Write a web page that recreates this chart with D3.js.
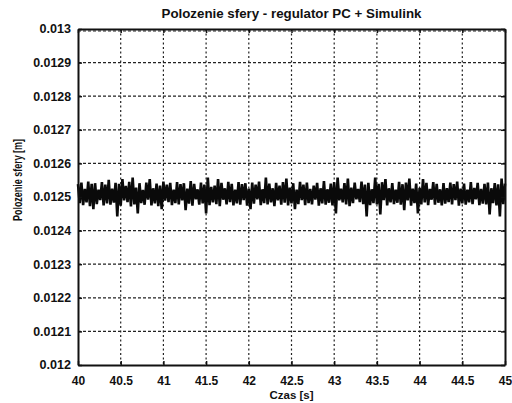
<!DOCTYPE html>
<html>
<head>
<meta charset="utf-8">
<script src="https://cdn.jsdelivr.net/npm/d3@7"></script>
<style>
  body { margin: 0; background: #fff; }
  svg text { font-family: "Liberation Sans", Arial, sans-serif; font-weight: bold; fill: #111; }
</style>
</head>
<body>
<svg id="chart" width="512" height="403"></svg>
<script>
// data
var t0 = 40, krok = 0.02   // sample time [s]
var polozenie = [
  0.012538, 0.012482, 0.012543, 0.012476, 0.012524, 0.012484, 0.012546, 0.012473, 0.012539, 0.012464,
  0.012541, 0.012479, 0.012522, 0.012491, 0.012544, 0.012475, 0.012537, 0.012481, 0.012551, 0.012477,
  0.012525, 0.012483, 0.012542, 0.012442, 0.012539, 0.012474, 0.012553, 0.012490, 0.012533, 0.012485,
  0.012545, 0.012472, 0.012558, 0.012478, 0.012528, 0.012451, 0.012541, 0.012482, 0.012521, 0.012477,
  0.012543, 0.012492, 0.012553, 0.012475, 0.012526, 0.012481, 0.012540, 0.012473, 0.012534, 0.012464,
  0.012546, 0.012489, 0.012537, 0.012485, 0.012542, 0.012476, 0.012522, 0.012482, 0.012544, 0.012478,
  0.012538, 0.012490, 0.012541, 0.012461, 0.012525, 0.012480, 0.012547, 0.012474, 0.012539, 0.012493,
  0.012523, 0.012477, 0.012543, 0.012481, 0.012537, 0.012451, 0.012558, 0.012476, 0.012530, 0.012484,
  0.012534, 0.012479, 0.012553, 0.012473, 0.012542, 0.012492, 0.012526, 0.012478, 0.012545, 0.012485,
  0.012539, 0.012475, 0.012522, 0.012481, 0.012544, 0.012477, 0.012538, 0.012491, 0.012541, 0.012474,
  0.012525, 0.012464, 0.012543, 0.012480, 0.012537, 0.012493, 0.012546, 0.012476, 0.012523, 0.012482,
  0.012558, 0.012478, 0.012540, 0.012484, 0.012526, 0.012473, 0.012542, 0.012490, 0.012534, 0.012477,
  0.012544, 0.012483, 0.012555, 0.012475, 0.012528, 0.012481, 0.012541, 0.012464, 0.012522, 0.012479,
  0.012545, 0.012491, 0.012537, 0.012476, 0.012543, 0.012482, 0.012524, 0.012478, 0.012534, 0.012492,
  0.012542, 0.012474, 0.012526, 0.012481, 0.012547, 0.012477, 0.012523, 0.012483, 0.012540, 0.012475,
  0.012544, 0.012451, 0.012558, 0.012490, 0.012525, 0.012484, 0.012541, 0.012478, 0.012555, 0.012473,
  0.012528, 0.012482, 0.012543, 0.012493, 0.012524, 0.012485, 0.012546, 0.012479, 0.012537, 0.012442,
  0.012542, 0.012476, 0.012523, 0.012482, 0.012558, 0.012478, 0.012539, 0.012448, 0.012544, 0.012491,
  0.012553, 0.012475, 0.012526, 0.012484, 0.012541, 0.012479, 0.012522, 0.012483, 0.012545, 0.012477,
  0.012538, 0.012461, 0.012543, 0.012490, 0.012555, 0.012474, 0.012525, 0.012482, 0.012540, 0.012451,
  0.012527, 0.012478, 0.012553, 0.012484, 0.012542, 0.012476, 0.012524, 0.012492, 0.012544, 0.012477,
  0.012539, 0.012483, 0.012523, 0.012475, 0.012541, 0.012480, 0.012526, 0.012485, 0.012543, 0.012478,
  0.012538, 0.012491, 0.012546, 0.012474, 0.012525, 0.012481, 0.012540, 0.012477, 0.012522, 0.012484,
  0.012544, 0.012479, 0.012527, 0.012493, 0.012542, 0.012476, 0.012524, 0.012480, 0.012539, 0.012478,
  0.012543, 0.012448, 0.012526, 0.012482, 0.012541, 0.012475, 0.012538, 0.012442, 0.012555, 0.012479,
  0.012540
]
var xTicks = [40, 40.5, 41, 41.5, 42, 42.5, 43, 43.5, 44, 44.5, 45]
var yTicks = [0.012, 0.0121, 0.0122, 0.0123, 0.0124, 0.0125, 0.0126, 0.0127, 0.0128, 0.0129, 0.013]
var tytul = "Polozenie sfery - regulator PC + Simulink"
var xOpis = "Czas [s]"
var yOpis = "Polozenie sfery [m]"

var pLeft = 78, pRight = 505, pTop = 29, pBottom = 365
var svg = d3.select("#chart")

var x = d3.scaleLinear().domain([40, 45]).range([pLeft, pRight])
var y = d3.scaleLinear().domain([0.012, 0.013]).range([pBottom, pTop])

// grid
var grid = svg.append("g").attr("class", "grid")
grid.selectAll("line.gx").data(xTicks.slice(1, -1)).enter().append("line")
    .attr("x1", d => x(d)).attr("x2", d => x(d))
    .attr("y1", pTop).attr("y2", pBottom)
    .style("stroke", "#222").style("stroke-width", "1.2px").style("stroke-dasharray", "2,2.5")
grid.selectAll("line.gy").data(yTicks.slice(1, -1)).enter().append("line")
    .attr("x1", pLeft).attr("x2", pRight)
    .attr("y1", d => y(d)).attr("y2", d => y(d))
    .style("stroke", "#222").style("stroke-width", "1.2px").style("stroke-dasharray", "3,2")
// dotted line just under the top frame
grid.append("line").attr("x1", pLeft).attr("x2", pRight).attr("y1", pTop + 2).attr("y2", pTop + 2)
    .style("stroke", "#222").style("stroke-width", "1px").style("stroke-dasharray", "3,2")

// signal
var line = d3.line().x((d, i) => x(t0 + i * krok)).y(d => y(d))
svg.append("path").datum(polozenie)
    .attr("d", line)
    .style("fill", "none").style("stroke", "#0a0a0a").style("stroke-width", "2.6px")
    .style("stroke-linejoin", "miter").style("stroke-miterlimit", "2")

// axes with inward ticks
var fmtX = d => String(+d.toFixed(1))
var fmtY = d => String(+d.toFixed(4))
var axB = svg.append("g").attr("transform", "translate(0," + pBottom + ")")
    .call(d3.axisBottom(x).tickValues(xTicks).tickFormat(fmtX).tickSizeInner(-4).tickSizeOuter(0).tickPadding(8))
var axL = svg.append("g").attr("transform", "translate(" + pLeft + ",0)")
    .call(d3.axisLeft(y).tickValues(yTicks).tickFormat(fmtY).tickSizeInner(-4).tickSizeOuter(0).tickPadding(7))
var axT = svg.append("g").attr("transform", "translate(0," + pTop + ")")
    .call(d3.axisTop(x).tickValues(xTicks).tickFormat("").tickSizeInner(-4).tickSizeOuter(0))
var axR = svg.append("g").attr("transform", "translate(" + pRight + ",0)")
    .call(d3.axisRight(y).tickValues(yTicks).tickFormat("").tickSizeInner(-4).tickSizeOuter(0))

svg.selectAll(".domain").style("stroke", "#111").style("stroke-width", "2px")
svg.selectAll(".tick line").style("stroke", "#111").style("stroke-width", "1.5px")
svg.selectAll(".tick text").style("font-size", "12px").style("font-family", "Liberation Sans, Arial, sans-serif")
    .style("font-weight", "bold").style("fill", "#111")
axL.selectAll(".tick text").attr("textLength", function(d) { return fmtY(d).length * 6.3 })
    .attr("lengthAdjust", "spacingAndGlyphs")
axB.selectAll(".tick text").attr("dy", "1em")

// texts
svg.append("text").attr("x", (pLeft + pRight) / 2).attr("y", 18)
    .attr("text-anchor", "middle").style("font-size", "12px")
    .attr("textLength", 260).attr("lengthAdjust", "spacingAndGlyphs")
    .text(tytul)
svg.append("text").attr("x", (pLeft + pRight) / 2).attr("y", 399)
    .attr("text-anchor", "middle").style("font-size", "11px")
    .attr("textLength", 44).attr("lengthAdjust", "spacingAndGlyphs")
    .text(xOpis)
svg.append("text").attr("transform", "translate(22,180) rotate(-90)")
    .attr("text-anchor", "middle").style("font-size", "12px")
    .attr("textLength", 82).attr("lengthAdjust", "spacingAndGlyphs")
    .text(yOpis)
</script>
</body>
</html>
